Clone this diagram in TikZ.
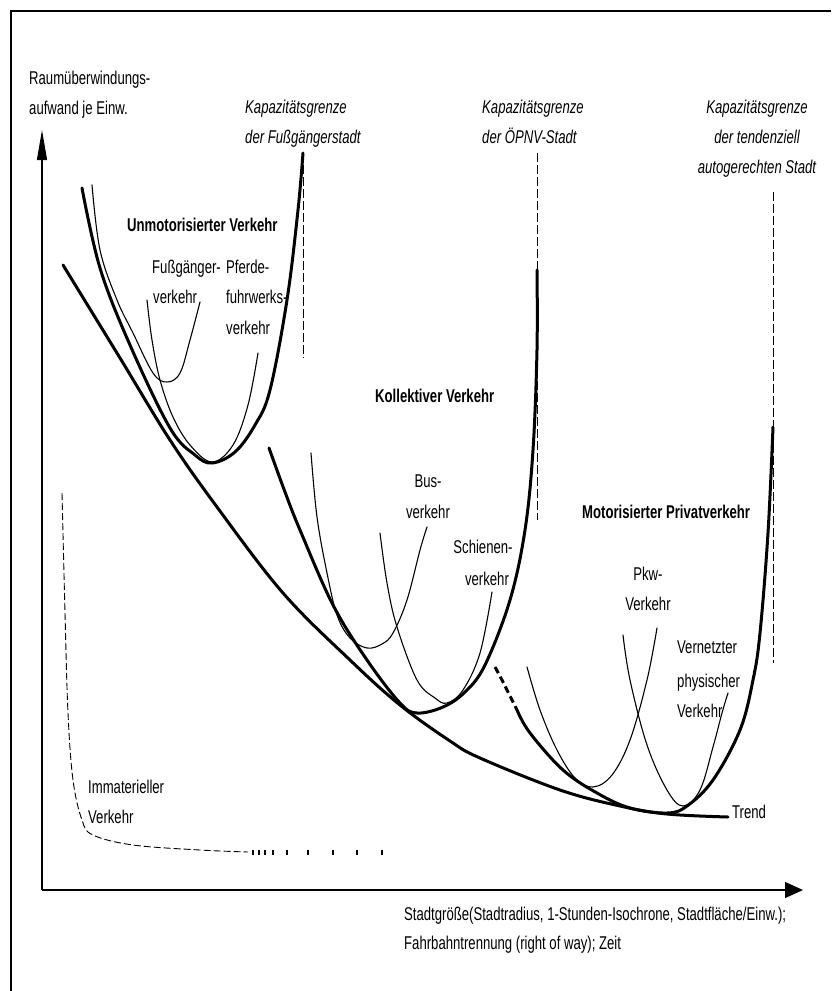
\documentclass[tikz,border=0pt]{standalone}
\usepackage{fontspec}
\setmainfont{Liberation Sans}[FakeStretch=0.71]
\usetikzlibrary{arrows.meta}
\tikzset{
  thickc/.style={line width=3pt, line cap=round, line join=round},
  thinc/.style={line width=1.1pt, line cap=round},
  caplim/.style={line width=0.9pt, dash pattern=on 9pt off 3pt},
  immat/.style={line width=0.9pt, dash pattern=on 7pt off 3pt},
  axisline/.style={line width=1.3pt},
  lbl/.style={inner sep=0pt, font=\fontsize{18.5}{30}\selectfont},
  blbl/.style={lbl, font=\fontsize{18.5}{30}\selectfont\bfseries},
  ilbl/.style={lbl, font=\fontsize{18.5}{30}\selectfont\itshape},
}
\begin{document}
\begin{tikzpicture}[x=1pt, y=-1pt]
\useasboundingbox (0,0) rectangle (831,991);
% frame
\draw[line width=2.5pt] (11,991) -- (11,11) -- (831,11);
% axes
\coordinate (o) at (42,890);
\coordinate (ytip) at (42,130);
\coordinate (xtip) at (803,890);
\draw[axisline, -{Triangle[length=30pt,width=10pt]}] (o) -- (ytip);
\draw[axisline, -{Triangle[length=18pt,width=16pt]}] (o) -- (xtip);

% capacity limits
\draw[caplim] (303,153) -- (303,358);
\draw[caplim] (537,153) -- (537,520);
\draw[caplim] (773,192) -- (773,663);

% Trend
\draw[thickc] plot[smooth, tension=0.6] coordinates {(63,265) (120,358) (170,440) (217,507) (283,593) (350,660) (400,705) (450,741) (480,758) (560,790) (620,806) (667,814) (728,817)};

% Unmotorisierter Verkehr
\draw[thickc] plot[smooth, tension=0.6] coordinates {(82,188) (100,268) (130,345) (170,428) (195,455) (212,463) (235,452) (255,425) (270,390) (287,300) (298,210) (303,153)};
\draw[thinc] plot[smooth, tension=0.6] coordinates {(92,185) (100,250) (117,300) (133,333) (153,373) (167,382) (180,373) (190,340) (200,302)};
\draw[thinc] plot[smooth, tension=0.6] coordinates {(147,300) (152,340) (160,380) (173,417) (190,445) (212,462) (233,445) (248,405) (258,353)};

% Kollektiver Verkehr
\draw[thickc] plot[smooth, tension=0.6] coordinates {(269,448) (285,492) (300,530) (333,605) (367,660) (400,703) (417,713) (443,707) (465,692) (485,665) (510,600) (525,530) (533,450) (537,350) (537,270)};
\draw[thinc] plot[smooth, tension=0.6] coordinates {(311,453) (317,517) (327,573) (337,615) (350,638) (367,648) (382,644) (393,633) (407,600) (420,550) (427,527)};
\draw[thinc] plot[smooth, tension=0.6] coordinates {(380,533) (387,583) (397,627) (417,680) (435,698) (447,703) (463,690) (480,653) (492,592)};

% Motorisierter Privatverkehr
\draw[thickc, line cap=butt, dash pattern=on 7pt off 4pt] plot[smooth, tension=0.6] coordinates {(495,667) (503,682) (517,710)};
\draw[thickc] plot[smooth, tension=0.6] coordinates {(517,710) (530,733) (563,770) (597,793) (630,808) (667,813) (687,806) (713,780) (740,730) (753,680) (760,633) (768,533) (773,427)};
\draw[thinc] plot[smooth, tension=0.6] coordinates {(527,667) (540,710) (557,750) (575,778) (593,787) (612,775) (630,740) (647,680) (657,628)};
\draw[thinc] plot[smooth, tension=0.6] coordinates {(623,635) (630,680) (647,745) (667,790) (683,806) (700,790) (713,747) (722,713) (728,693)};

% Immaterieller Verkehr
\draw[immat] plot[smooth, tension=0.6] coordinates {(62,493) (65,613) (68,713) (73,780) (82,820) (93,835) (133,845) (200,850) (248,852)};
\foreach \xx in {253,259,265,273,287,308,333,357,382} \draw[line width=1.3pt] (\xx,850) -- (\xx,855);

% labels
\node[lbl, anchor=base west] (ya1) at (29,84) {Raumüberwindungs-};
\node[lbl, anchor=base west] (ya2) at (29,114) {aufwand je Einw.};
\node[ilbl, anchor=base west] (k1a) at (245,113) {Kapazitätsgrenze};
\node[ilbl, anchor=base west] (k1b) at (245,143) {der Fußgängerstadt};
\node[ilbl, anchor=base west] (k2a) at (482,113) {Kapazitätsgrenze};
\node[ilbl, anchor=base west] (k2b) at (482,143) {der ÖPNV-Stadt};
\node[ilbl, anchor=base] (k3a) at (757,113) {Kapazitätsgrenze};
\node[ilbl, anchor=base] (k3b) at (757,143) {der tendenziell};
\node[ilbl, anchor=base] (k3c) at (757,173) {autogerechten Stadt};

\node[blbl, anchor=base west] (unm) at (127,231) {Unmotorisierter Verkehr};
\node[lbl, anchor=base west] (fg1) at (152,273) {Fußgänger-};
\node[lbl, anchor=base west] (fg2) at (153,303) {verkehr};
\node[lbl, anchor=base west] (pf1) at (226,273) {Pferde-};
\node[lbl, anchor=base west] (pf2) at (226,303) {fuhrwerks-};
\node[lbl, anchor=base west] (pf3) at (226,334) {verkehr};

\node[blbl, anchor=base west] (kol) at (375,402) {Kollektiver Verkehr};
\node[lbl, anchor=base] (bus1) at (428,487) {Bus-};
\node[lbl, anchor=base] (bus2) at (428,518) {verkehr};
\node[lbl, anchor=base] (sch1) at (483,553) {Schienen-};
\node[lbl, anchor=base] (sch2) at (487,585) {verkehr};

\node[blbl, anchor=base west] (miv) at (582,518) {Motorisierter Privatverkehr};
\node[lbl, anchor=base] (pkw1) at (648,580) {Pkw-};
\node[lbl, anchor=base] (pkw2) at (648,610) {Verkehr};
\node[lbl, anchor=base west] (ver1) at (677,653) {Vernetzter};
\node[lbl, anchor=base west] (ver2) at (677,687) {physischer};
\node[lbl, anchor=base west] (ver3) at (677,717) {Verkehr};
\node[lbl, anchor=base west] (trend) at (732,818) {Trend};

\node[lbl, anchor=base west] (im1) at (88,793) {Immaterieller};
\node[lbl, anchor=base west] (im2) at (88,823) {Verkehr};

\node[lbl, anchor=base west] (xa1) at (404,920) {Stadtgröße(Stadtradius, 1-Stunden-Isochrone, Stadtfläche/Einw.);};
\node[lbl, anchor=base west] (xa2) at (404,949) {Fahrbahntrennung (right of way); Zeit};
\end{tikzpicture}
\end{document}
